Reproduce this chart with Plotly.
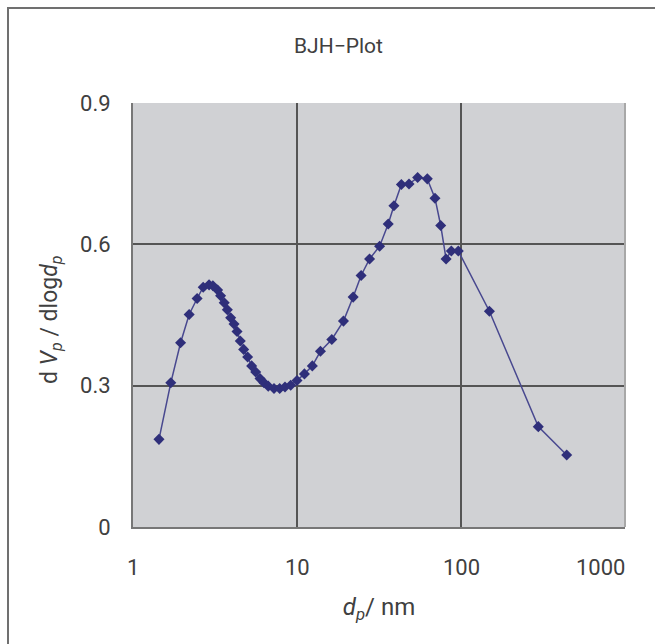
import plotly.graph_objects as go

# BJH pore size distribution: pore diameter (nm) vs dVp/dlog dp
pore_diameter_nm = [
    1.44, 1.70, 1.95, 2.20, 2.46, 2.68, 2.91, 3.07, 3.28, 3.42, 3.60, 3.76,
    3.94, 4.13, 4.31, 4.51, 4.73, 5.00, 5.29, 5.60, 5.95, 6.29, 6.68, 7.24,
    7.84, 8.45, 9.15, 10.0, 11.1, 12.4, 13.9, 16.3, 19.2, 22.0, 24.6, 27.7,
    31.9, 36.0, 39.0, 43.3, 48.2, 54.4, 62.3, 69.4, 75.2, 81.1, 87.3, 96.3,
    149, 296, 441,
]
dvp_dlogdp = [
    0.186, 0.306, 0.391, 0.451, 0.485, 0.509, 0.514, 0.512, 0.503, 0.491,
    0.476, 0.461, 0.444, 0.431, 0.415, 0.395, 0.377, 0.361, 0.342, 0.329,
    0.315, 0.306, 0.299, 0.294, 0.294, 0.297, 0.301, 0.311, 0.325, 0.342,
    0.373, 0.398, 0.437, 0.488, 0.534, 0.569, 0.596, 0.643, 0.682, 0.727,
    0.728, 0.742, 0.739, 0.698, 0.640, 0.569, 0.586, 0.586, 0.458, 0.213,
    0.153,
]
x_ticks = [1, 10, 100, 1000]
x_tick_text = ["1", "10", "100", "1000"]
y_ticks = [0, 0.3, 0.6, 0.9]
y_tick_text = ["0", "0.3", "0.6", "0.9"]

W, H = 655, 644
L, R, T, B = 133, 30, 103, 117
pw, ph = W - L - R, H - T - B

font_family = "Roboto"
text_color = "#404040"

fig = go.Figure()
fig.add_trace(go.Scatter(
    x=pore_diameter_nm,
    y=dvp_dlogdp,
    mode="lines+markers",
    line=dict(color="#48488f", width=1.5),
    marker=dict(symbol="diamond", size=8.5, color="#2f2f7a",
                line=dict(color="#2f2f7a", width=0)),
    showlegend=False,
))

fig.update_layout(
    width=W, height=H,
    margin=dict(l=L, r=R, t=T, b=B, pad=0),
    paper_bgcolor="white",
    plot_bgcolor="#d0d1d4",
    font=dict(family=font_family, color=text_color, size=22),
    xaxis=dict(
        type="log", range=[0, 3],
        tickvals=x_ticks, ticktext=["", "", "", ""],
        showgrid=True, gridcolor="#555555", gridwidth=1.5,
        showline=True, linecolor="#777777", linewidth=2, mirror=False,
        ticks="",
        title=dict(text="<i>d</i><sub><i>p</i></sub>/ nm",
                   font=dict(size=24, color=text_color), standoff=66),
        zeroline=False,
    ),
    yaxis=dict(
        range=[0, 0.9],
        tickvals=y_ticks, ticktext=y_tick_text,
        showgrid=True, gridcolor="#555555", gridwidth=1.5,
        showline=True, linecolor="#777777", linewidth=2,
        ticks="", ticklabelstandoff=16,
        tickfont=dict(size=22, color=text_color),
        zeroline=False,
    ),
)

# y axis title, placed explicitly to the left of the tick labels
fig.add_annotation(
    text="d <i>V</i><sub><i>p</i></sub> / dlog<i>d</i><sub><i>p</i></sub>",
    xref="paper", yref="paper", x=(51 - L) / pw, y=(527 - 320) / ph,
    xanchor="center", yanchor="middle", textangle=-90, showarrow=False,
    font=dict(size=23, color=text_color, family=font_family),
)

# x tick labels; the last one sits flush with the right edge of the plot
for val, txt in zip(x_ticks, x_tick_text):
    last = val == x_ticks[-1]
    fig.add_annotation(
        text=txt, x=0 if val == 1 else (3 if last else (1 if val == 10 else 2)),
        xref="x", yref="paper", y=(527 - 567) / ph,
        xanchor="right" if last else "center", yanchor="middle",
        xshift=2 if last else 0,
        showarrow=False, font=dict(size=22, color=text_color, family=font_family),
    )

# right edge of the plot area
fig.add_shape(type="line", xref="paper", yref="paper", x0=1, x1=1, y0=0, y1=1,
              line=dict(color="#a8a8a8", width=2))

# outer frame around the whole chart
fig.add_shape(type="rect", xref="paper", yref="paper",
              x0=(8 - L) / pw, x1=(W + 10 - L) / pw,
              y0=(H - B - (H + 10)) / ph, y1=(H - B - 8) / ph,
              line=dict(color="#707070", width=2), fillcolor="rgba(0,0,0,0)")

fig.add_annotation(
    text="BJH\u2212Plot", xref="paper", yref="paper",
    x=(338 - L) / pw, y=(H - B - 46) / ph,
    xanchor="center", yanchor="middle", showarrow=False,
    font=dict(size=21, color="#404040", family=font_family),
)

fig.write_html("out.html")
